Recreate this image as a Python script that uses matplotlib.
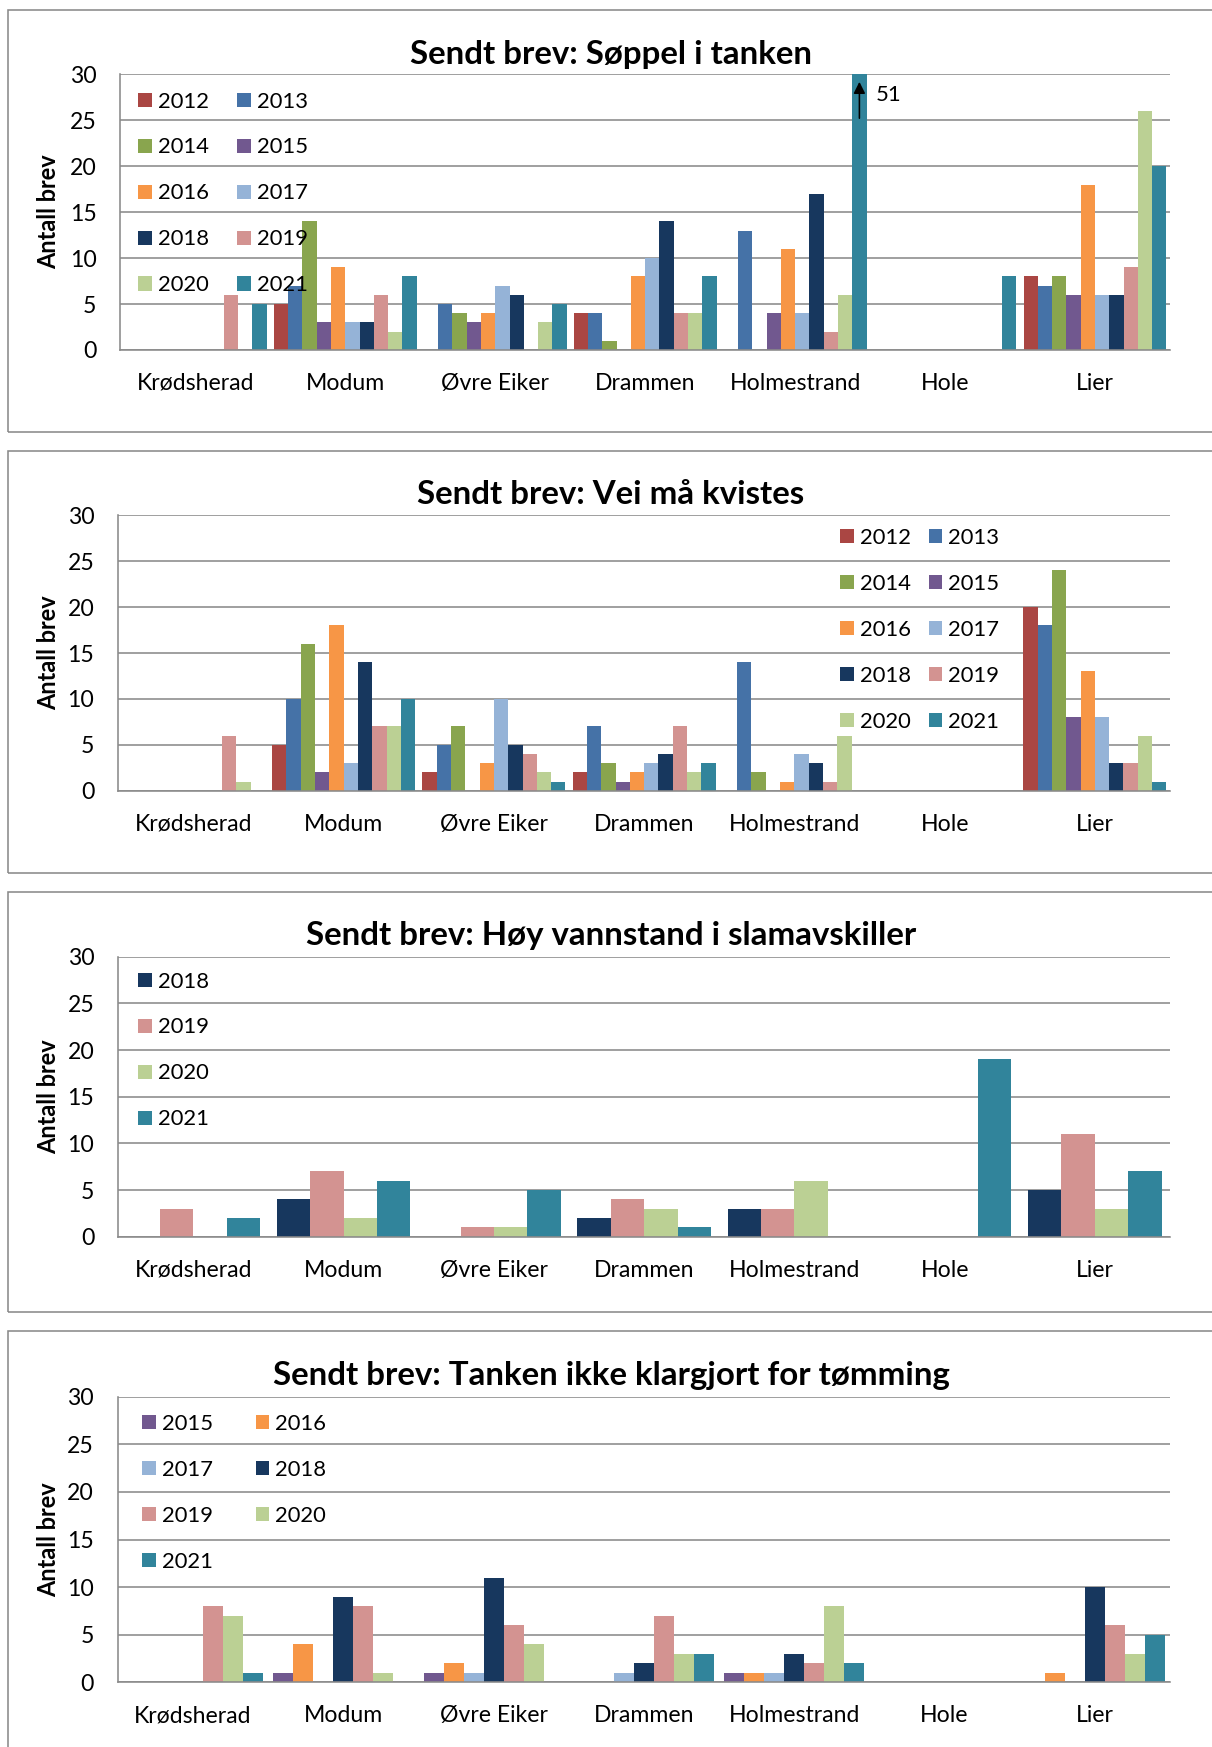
import numpy as np
import matplotlib
matplotlib.use("Agg")
import matplotlib.pyplot as plt
from matplotlib.patches import Rectangle

plt.rcParams['font.family'] = ['Lato', 'DejaVu Sans']

W, H, DPI = 1212, 1747, 72

kommuner = ['Krødsherad', 'Modum', 'Øvre Eiker', 'Drammen', 'Holmestrand', 'Hole', 'Lier']

farger = {
    '2012': '#AA4643', '2013': '#4572A7', '2014': '#89A54E', '2015': '#71588F',
    '2016': '#F79646', '2017': '#95B3D7', '2018': '#17375E', '2019': '#D39391',
    '2020': '#BBD094', '2021': '#31849B',
}

# Sendt brev: Søppel i tanken
soppel_aar = ['2012', '2013', '2014', '2015', '2016', '2017', '2018', '2019', '2020', '2021']
soppel = [
    [0, 5, 0, 4, 0, 0, 8],
    [0, 7, 5, 4, 13, 0, 7],
    [0, 14, 4, 1, 0, 0, 8],
    [0, 3, 3, 0, 4, 0, 6],
    [0, 9, 4, 8, 11, 0, 18],
    [0, 3, 7, 10, 4, 0, 6],
    [0, 3, 6, 14, 17, 0, 6],
    [6, 6, 0, 4, 2, 0, 9],
    [0, 2, 3, 4, 6, 0, 26],
    [5, 8, 5, 8, 51, 8, 20],
]

# Sendt brev: Vei må kvistes
vei_aar = ['2012', '2013', '2014', '2015', '2016', '2017', '2018', '2019', '2020', '2021']
vei = [
    [0, 5, 2, 2, 0, 0, 20],
    [0, 10, 5, 7, 14, 0, 18],
    [0, 16, 7, 3, 2, 0, 24],
    [0, 2, 0, 1, 0, 0, 8],
    [0, 18, 3, 2, 1, 0, 13],
    [0, 3, 10, 3, 4, 0, 8],
    [0, 14, 5, 4, 3, 0, 3],
    [6, 7, 4, 7, 1, 0, 3],
    [1, 7, 2, 2, 6, 0, 6],
    [0, 10, 1, 3, 0, 0, 1],
]

# Sendt brev: Høy vannstand i slamavskiller
vann_aar = ['2018', '2019', '2020', '2021']
vann = [
    [0, 4, 0, 2, 3, 0, 5],
    [3, 7, 1, 4, 3, 0, 11],
    [0, 2, 1, 3, 6, 0, 3],
    [2, 6, 5, 1, 0, 19, 7],
]

# Sendt brev: Tanken ikke klargjort for tømming
klar_aar = ['2015', '2016', '2017', '2018', '2019', '2020', '2021']
klar = [
    [0, 1, 1, 0, 1, 0, 0],
    [0, 4, 2, 0, 1, 0, 1],
    [0, 0, 1, 1, 1, 0, 0],
    [0, 9, 11, 2, 3, 0, 10],
    [8, 8, 6, 7, 2, 0, 6],
    [7, 1, 4, 3, 8, 0, 3],
    [1, 0, 0, 3, 2, 0, 5],
]

GRID = '#8a8a8a'
FS = 23       # aksetekst
FS_LEG = 22   # legend


def fx(px):
    return px / W


def fy(py):
    return 1 - py / H


fig = plt.figure(figsize=(W / DPI, H / DPI), dpi=DPI)
fig.patch.set_facecolor('white')


def panel(box, plot, tittel, tittel_y, aar, verdier, leg_xy, ncol, colspace):
    # ramme rundt hele diagrammet
    top, bottom = box
    fig.add_artist(Rectangle((fx(8.3), fy(bottom)), fx(1300), (bottom - top) / H,
                             transform=fig.transFigure, fill=False,
                             edgecolor=GRID, linewidth=1.6))
    left, ptop, right, pbottom = plot
    ax = fig.add_axes([fx(left), fy(pbottom), fx(right - left), (pbottom - ptop) / H])

    n = len(aar)
    w = 1 / (n + 0.5)
    x = np.arange(len(kommuner))
    bars = []
    for i, (a, v) in enumerate(zip(aar, verdier)):
        pos = x - 0.5 + 0.25 * w + (i + 0.5) * w
        bars.append(ax.bar(pos, v, width=w, color=farger[a], label=a, linewidth=0))

    ax.set_xlim(-0.5, len(kommuner) - 0.5)
    ax.set_ylim(0, 30)
    ax.set_yticks(range(0, 31, 5))
    ax.set_xticks(x)
    ax.set_xticklabels(kommuner)
    ax.tick_params(axis='both', length=0, labelsize=FS)
    ax.tick_params(axis='x', pad=23)
    ax.tick_params(axis='y', pad=24)
    ax.grid(axis='y', color=GRID, linewidth=1.6)
    ax.set_axisbelow(True)
    for s in ['top', 'right']:
        ax.spines[s].set_visible(False)
    for s in ['left', 'bottom']:
        ax.spines[s].set_color(GRID)
        ax.spines[s].set_linewidth(1.6)

    fig.text(fx(611), fy(tittel_y), tittel, ha='center', va='center',
             fontsize=33, fontweight='bold')
    fig.text(fx(48.5), fy((ptop + pbottom) / 2), 'Antall brev', rotation=90,
             ha='center', va='center', fontsize=23.5, fontweight='bold')

    # legend i rader, som i Excel
    if ncol == 2:
        order = list(range(0, n, 2)) + list(range(1, n, 2))
    else:
        order = list(range(n))
    lx, ly = leg_xy
    ax.legend([bars[k] for k in order], [aar[k] for k in order], ncol=ncol,
              loc='upper left', bbox_to_anchor=(fx(lx), fy(ly)),
              bbox_transform=fig.transFigure, frameon=False, fontsize=FS_LEG,
              borderpad=0, borderaxespad=0, handlelength=0.62, handleheight=0.62,
              handletextpad=0.27, labelspacing=1.18, columnspacing=colspace)
    return ax, x, w


ax1, x1, w1 = panel((10, 432), (120.4, 74.3, 1170, 350), 'Sendt brev: Søppel i tanken', 54.5,
                    soppel_aar, soppel, (138, 91.5), 2, 1.3)
# pil for Holmestrand 2021 (51 brev)
xh = x1[4] - 0.5 + 0.25 * w1 + 9.5 * w1
ax1.annotate('', xy=(xh, 29.4), xytext=(xh, 25),
             arrowprops=dict(arrowstyle='-|>', color='black', lw=1.6, mutation_scale=24))
ax1.text(xh + 0.11, 27.8, str(soppel[9][4]), fontsize=FS_LEG, va='center', ha='left')

panel((450.7, 872.7), (118.3, 515.3, 1170, 790.7), 'Sendt brev: Vei må kvistes', 494.5,
      vei_aar, vei, (840, 528), 2, 0.82)
panel((892, 1312.3), (118.3, 956.7, 1170, 1236.7), 'Sendt brev: Høy vannstand i slamavskiller', 935.5,
      vann_aar, vann, (138, 971.5), 1, 1.0)
panel((1331.2, 1770), (117.9, 1396.7, 1170, 1682.3), 'Sendt brev: Tanken ikke klargjort for tømming', 1375.5,
      klar_aar, klar, (142, 1414), 2, 1.95)

fig.savefig('out.png', dpi=DPI, facecolor='white')
